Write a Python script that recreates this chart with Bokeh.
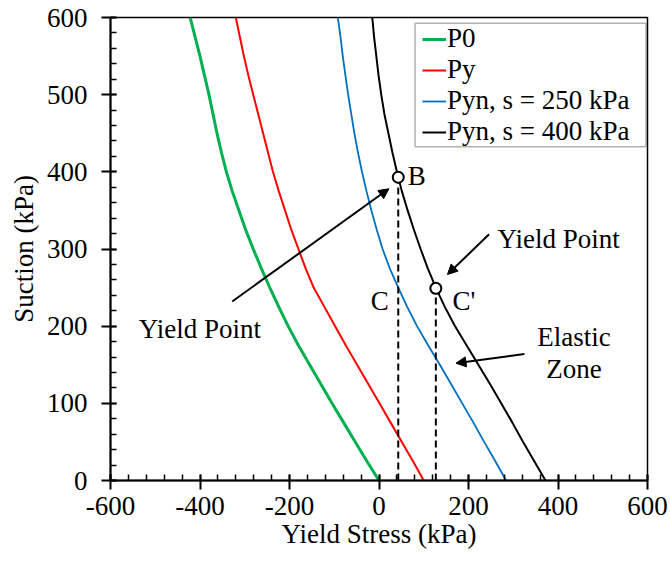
from bokeh.plotting import figure
from bokeh.models import (ColumnDataSource, Legend, LegendItem, Label, Arrow,
                          NormalHead, Range1d, FixedTicker, BoxAnnotation)
from bokeh.embed import file_html
from bokeh.resources import INLINE

# ---- data ----
suction = [0, 25, 50, 75, 100, 125, 150, 175, 200, 225, 250, 275, 300,
           325, 350, 375, 400, 425, 450, 475, 500, 525, 550, 575, 600]
p0 = [0, -27, -53, -79, -105, -130, -155, -180, -203, -224, -244, -263, -281,
      -298, -313, -328, -341, -352, -362, -371, -380, -390, -400, -411, -422]
py = [100, 76, 51, 26, 1, -24, -49, -74, -98, -122, -146, -164, -180,
      -196, -210, -224, -237, -248, -259, -270, -281, -292, -302, -311, -320]
pyn_250 = [284, 260, 235, 211, 186, 161, 136, 110, 85, 63, 43, 24, 8,
           -5, -17, -28, -38, -47, -55, -62, -69, -75, -81, -86, -92]
pyn_400 = [372, 347, 322, 298, 273, 248, 222, 196, 170, 147, 127, 109, 93,
           78, 64, 51, 40, 30, 21, 12, 5, -1, -6, -11, -15]

series_names = ["P0", "Py", "Pyn, s = 250 kPa", "Pyn, s = 400 kPa"]
series_vals = [p0, py, pyn_250, pyn_400]
series_colors = ["#00B050", "#FF0000", "#0070C0", "#000000"]
series_widths = [3, 2, 1.8, 2]

yield_x = [43, 127]      # points B and C'
yield_s = [393, 249]

x_ticks = [-600, -400, -200, 0, 200, 400, 600]
y_ticks = [0, 100, 200, 300, 400, 500, 600]

FONT = "Liberation Serif"
FS = "27px"

p = figure(width=670, height=562, output_backend="svg", toolbar_location=None,
           x_range=Range1d(-600, 600), y_range=Range1d(0, 600),
           min_border_left=110, min_border_right=23, min_border_top=17,
           min_border_bottom=82)
p.background_fill_color = "white"
p.border_fill_color = "white"
p.outline_line_color = "#000000"
p.outline_line_width = 1.5
p.xgrid.visible = False
p.ygrid.visible = False

for ax, ticks in ((p.xaxis[0], x_ticks), (p.yaxis[0], y_ticks)):
    ax.ticker = FixedTicker(ticks=ticks,
                            minor_ticks=list(range(ticks[0], ticks[-1] + 1,
                                                   (ticks[1] - ticks[0]) // 5)))
    ax.major_label_overrides = {t: str(t) for t in ticks}
    ax.axis_line_width = 2
    ax.axis_line_color = "black"
    ax.major_tick_line_width = 2
    ax.minor_tick_line_width = 1.5
    ax.major_tick_line_color = "black"
    ax.minor_tick_line_color = "black"
    ax.major_tick_in = 6
    ax.major_tick_out = 9
    ax.minor_tick_in = 6
    ax.minor_tick_out = 0
    ax.major_label_text_font = FONT
    ax.major_label_text_font_size = FS
    ax.major_label_text_color = "black"
    ax.axis_label_text_font = FONT
    ax.axis_label_text_font_size = FS
    ax.axis_label_text_font_style = "normal"
    ax.axis_label_text_color = "black"

p.xaxis.axis_label = "Yield Stress (kPa)"
p.yaxis.axis_label = "Suction (kPa)"
p.xaxis.major_label_standoff = 7
p.xaxis.axis_label_standoff = 1
p.yaxis.major_label_standoff = 14
p.yaxis.axis_label_standoff = 5

items = []
for name, vals, col, lw in zip(series_names, series_vals, series_colors, series_widths):
    src = ColumnDataSource(dict(x=vals, y=suction))
    r = p.line("x", "y", source=src, line_color=col, line_width=lw)
    items.append(LegendItem(label=name, renderers=[r]))

# dashed verticals from yield points down to zero suction
for xv, sv in zip(yield_x, yield_s):
    p.line([xv, xv], [0, sv], line_color="black", line_width=2, line_dash="7 4")

p.scatter(yield_x, yield_s, size=11, marker="circle", fill_color="white",
          line_color="black", line_width=2)

# legend frame (drawn separately so the box can be wider than the entries)
p.add_layout(BoxAnnotation(left=80.6, right=596.6, bottom=432.6, top=592.5,
                           fill_color="white", fill_alpha=1.0,
                           line_color="black", line_width=1.5))

legend = Legend(items=items, location=(312, 333), margin=0, padding=0, spacing=0,
                glyph_width=24, glyph_height=20, label_standoff=1, label_height=20,
                label_text_font=FONT, label_text_font_size=FS,
                label_text_color="black", border_line_alpha=0,
                background_fill_alpha=0)
p.add_layout(legend, "center")

def lab(text, x, y, align="left"):
    p.add_layout(Label(x=x, y=y, text=text, text_font=FONT, text_font_size=FS,
                       text_color="black", text_align=align,
                       text_baseline="alphabetic"))

lab("B", 64, 395)
lab("C", 22, 233, "right")
lab("C'", 164, 233)
lab("A", 51, -31, "center")
lab("Yield Point", -537, 196)
lab("Yield Point", 265, 313)
lab("Elastic", 436, 186, "center")
lab("Zone", 436, 145, "center")

for (x0, y0, x1, y1) in [(-328, 232, 22, 378), (246, 319, 153, 267), (325, 164, 172, 152)]:
    p.add_layout(Arrow(x_start=x0, y_start=y0, x_end=x1, y_end=y1,
                       line_color="black", line_width=2,
                       end=NormalHead(size=10, fill_color="black", line_color="black")))

open("out.html", "w").write(file_html(p, INLINE))
